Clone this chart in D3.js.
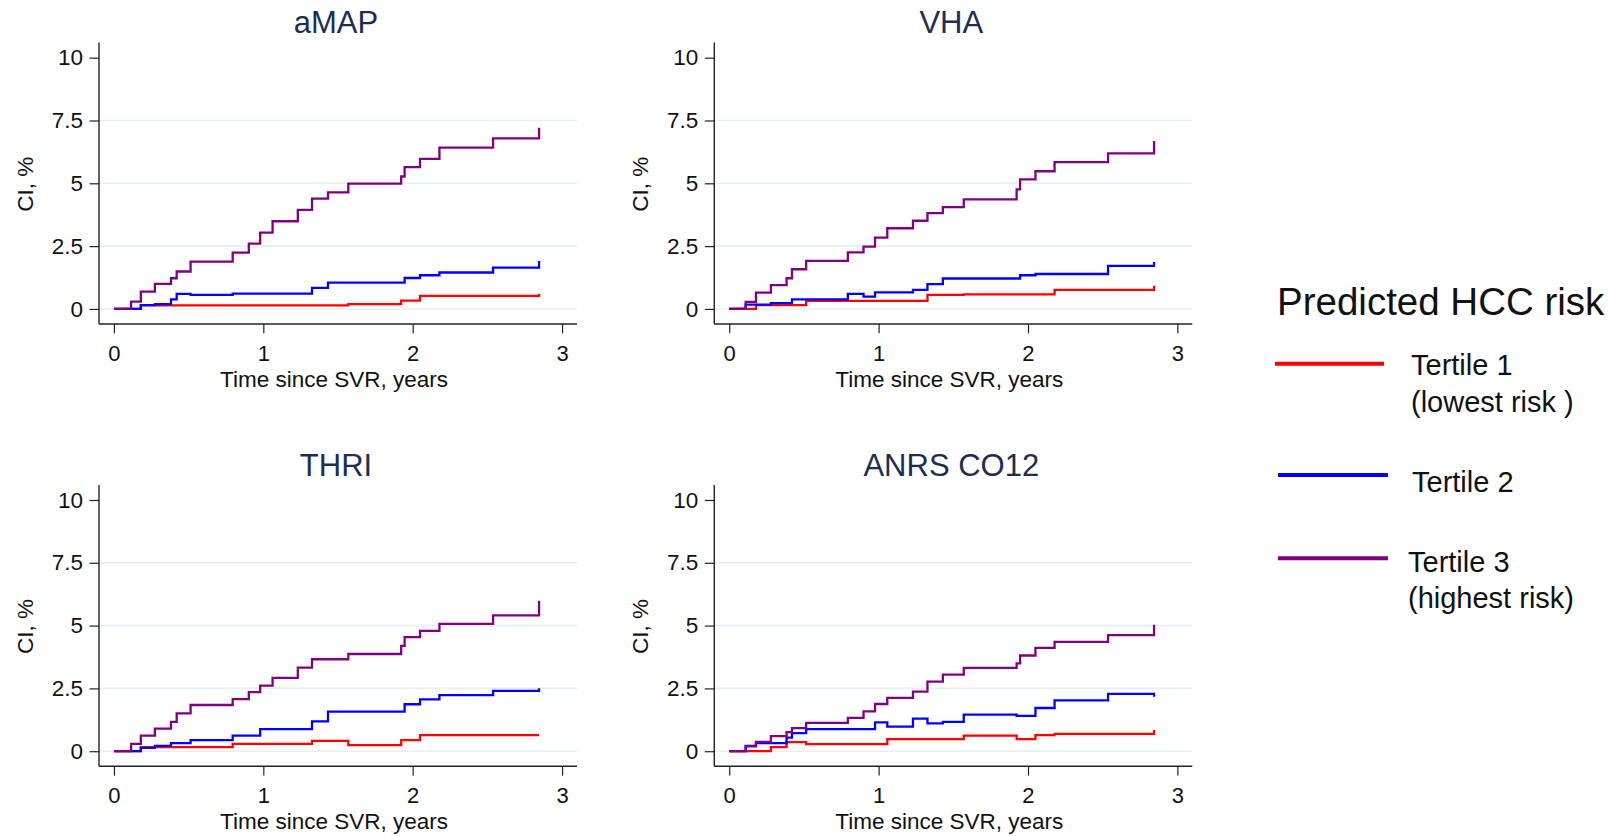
<!DOCTYPE html>
<html>
<head>
<meta charset="utf-8">
<script src="https://cdn.jsdelivr.net/npm/d3@7"></script>
<style>
  html, body { margin: 0; padding: 0; background: #fff; }
  svg { display: block; font-family: "Liberation Sans", Arial, Helvetica, sans-serif; }
</style>
</head>
<body>
<svg id="chart" width="1619" height="836"></svg>
<script>
// ---------------- DATA ----------------
const panelTitles = ["aMAP", "VHA", "THRI", "ANRS CO12"];
const seriesNames = ["Tertile 1", "Tertile 2", "Tertile 3"];
const legendTitle = "Predicted HCC risk";
const legendLabels = [["Tertile 1", "(lowest risk )"], ["Tertile 2"], ["Tertile 3", "(highest risk)"]];
const xTicks = [0, 1, 2, 3];
const yTicks = [0, 2.5, 5, 7.5, 10];
const yGrid = [0, 2.5, 5, 7.5];
const xLabel = "Time since SVR, years";
const yLabel = "CI, %";

// [time (years), cumulative incidence (%)]
const aMAP_t1 = [[0,0],[0.18,0.14],[1.569,0.19],[1.923,0.33],[2.049,0.52],[2.846,0.52],[2.846,0.6]];
const aMAP_t2 = [[0,0],[0.18,0.15],[0.274,0.19],[0.382,0.38],[0.42,0.6],[0.513,0.56],[0.795,0.61],[1.326,0.84],[1.433,1.05],[1.946,1.23],[2.049,1.34],[2.179,1.45],[2.538,1.64],[2.846,1.64],[2.846,1.91]];
const aMAP_t3 = [[0,0],[0.115,0.29],[0.18,0.69],[0.274,1.0],[0.382,1.22],[0.42,1.49],[0.513,1.88],[0.795,2.24],[0.903,2.6],[0.979,3.04],[1.062,3.49],[1.231,3.94],[1.326,4.39],[1.433,4.64],[1.569,4.99],[1.923,5.27],[1.946,5.64],[2.049,5.97],[2.179,6.42],[2.538,6.79],[2.846,6.79],[2.846,7.21]];

const VHA_t1 = [[0,0],[0.179,0.15],[0.515,0.32],[1.327,0.56],[1.57,0.58],[2.178,0.76],[2.844,0.76],[2.844,0.92]];
const VHA_t2 = [[0,0],[0.11,0.17],[0.279,0.23],[0.42,0.38],[0.794,0.6],[0.899,0.49],[0.976,0.66],[1.23,0.76],[1.327,0.99],[1.43,1.21],[1.947,1.34],[2.05,1.39],[2.536,1.71],[2.844,1.71],[2.844,1.87]];
const VHA_t3 = [[0,0],[0.11,0.28],[0.179,0.65],[0.279,0.95],[0.384,1.22],[0.42,1.58],[0.515,1.91],[0.794,2.25],[0.899,2.48],[0.976,2.84],[1.058,3.21],[1.23,3.51],[1.327,3.81],[1.43,4.05],[1.57,4.36],[1.924,4.76],[1.947,5.16],[2.05,5.48],[2.178,5.84],[2.536,6.19],[2.844,6.19],[2.844,6.68]];

const THRI_t1 = [[0,0],[0.18,0.16],[0.795,0.29],[1.326,0.41],[1.569,0.24],[1.923,0.44],[2.049,0.64],[2.846,0.64]];
const THRI_t2 = [[0,0],[0.18,0.13],[0.274,0.21],[0.382,0.32],[0.513,0.44],[0.795,0.62],[0.979,0.88],[1.326,1.19],[1.433,1.58],[1.946,1.87],[2.049,2.06],[2.179,2.23],[2.538,2.4],[2.846,2.4],[2.846,2.51]];
const THRI_t3 = [[0,0],[0.115,0.29],[0.18,0.62],[0.274,0.9],[0.382,1.17],[0.42,1.51],[0.513,1.84],[0.795,2.07],[0.903,2.35],[0.979,2.61],[1.062,2.92],[1.231,3.33],[1.326,3.66],[1.569,3.87],[1.923,4.19],[1.946,4.54],[2.049,4.79],[2.179,5.07],[2.538,5.41],[2.846,5.41],[2.846,5.99]];

const ANRS_t1 = [[0,0],[0.279,0.16],[0.384,0.36],[0.515,0.28],[1.058,0.48],[1.57,0.62],[1.924,0.48],[2.05,0.64],[2.178,0.69],[2.844,0.69],[2.844,0.84]];
const ANRS_t2 = [[0,0],[0.11,0.21],[0.179,0.32],[0.384,0.54],[0.42,0.72],[0.515,0.88],[0.976,1.15],[1.058,0.98],[1.23,1.3],[1.327,1.11],[1.43,1.17],[1.57,1.46],[1.924,1.41],[2.05,1.72],[2.178,2.02],[2.536,2.28],[2.844,2.28],[2.844,2.17]];
const ANRS_t3 = [[0,0],[0.11,0.19],[0.179,0.37],[0.279,0.6],[0.384,0.76],[0.42,0.92],[0.515,1.13],[0.794,1.33],[0.899,1.59],[0.976,1.88],[1.058,2.12],[1.23,2.37],[1.327,2.77],[1.43,3.05],[1.57,3.32],[1.924,3.5],[1.947,3.81],[2.05,4.11],[2.178,4.35],[2.536,4.62],[2.844,4.62],[2.844,5.03]];

const panelSeries = [
  [aMAP_t1, aMAP_t2, aMAP_t3],
  [VHA_t1, VHA_t2, VHA_t3],
  [THRI_t1, THRI_t2, THRI_t3],
  [ANRS_t1, ANRS_t2, ANRS_t3]
];

// ---------------- STYLE / LAYOUT ----------------
const colors = ["#ff0000", "#0000ff", "#800080"];
const titleColor = "#1f2d52";
const panelOrigins = [[0, 0], [615.3, 0], [0, 442.3], [615.3, 442.3]];
const axisLeft = 99, axisRight = 577, axisTop = 42.6, axisBottom = 324;
const font = '"Liberation Sans", Arial, sans-serif';

const svg = d3.select("#chart");

panelTitles.forEach((title, i) => {
  const [ox, oy] = panelOrigins[i];
  const g = svg.append("g").attr("transform", `translate(${ox},${oy})`);

  const x = d3.scaleLinear().domain([-0.1, 3.1]).range([axisLeft, axisRight]);
  const y = d3.scaleLinear().domain([-0.6, 10.6]).range([axisBottom, axisTop]);

  // grid
  g.append("g").selectAll("line").data(yGrid).join("line")
    .attr("x1", axisLeft).attr("x2", axisRight)
    .attr("y1", d => y(d)).attr("y2", d => y(d))
    .attr("stroke", "#e7eff2").attr("stroke-width", 1.6);

  // y axis
  const yAxis = d3.axisLeft(y).tickValues(yTicks).tickSize(9.5).tickPadding(6.5)
    .tickFormat(d => String(d));
  const ya = g.append("g").attr("transform", `translate(${axisLeft},0)`).call(yAxis);
  ya.attr("font-size", null).attr("font-family", null);
  ya.select(".domain").attr("d", `M0,${axisTop}V${axisBottom}`).attr("stroke", "#222").attr("stroke-width", 1.4);
  ya.selectAll(".tick line").attr("stroke", "#222").attr("stroke-width", 1.2);
  ya.selectAll(".tick text").style("font-size", "22.5px").attr("fill", "#111").style("font-family", font);

  // x axis
  const xAxis = d3.axisBottom(x).tickValues(xTicks).tickSize(9.3).tickPadding(12).tickFormat(d => String(d));
  const xa = g.append("g").attr("transform", `translate(0,${axisBottom})`).call(xAxis);
  xa.attr("font-size", null).attr("font-family", null);
  xa.select(".domain").attr("d", `M${axisLeft},0H${axisRight}`).attr("stroke", "#222").attr("stroke-width", 1.4);
  xa.selectAll(".tick line").attr("stroke", "#222").attr("stroke-width", 1.2);
  xa.selectAll(".tick text").style("font-size", "22px").attr("fill", "#111").style("font-family", font);

  // curves
  const line = d3.line().x(d => x(d[0])).y(d => y(d[1])).curve(d3.curveStepAfter);
  [0, 1, 2].forEach(k => {
    g.append("path").datum(panelSeries[i][k])
      .attr("d", line)
      .attr("fill", "none")
      .attr("stroke", colors[k])
      .attr("stroke-width", 2.3)
      .attr("stroke-linejoin", "miter");
  });

  // titles
  g.append("text").attr("x", (axisLeft + axisRight) / 2 - 2).attr("y", 33.3)
    .attr("text-anchor", "middle").style("font-size", "31px").attr("fill", titleColor).text(title);
  g.append("text").attr("x", (axisLeft + axisRight) / 2 - 4).attr("y", 386.5)
    .attr("text-anchor", "middle").style("font-size", "22.5px").attr("fill", "#111").text(xLabel);
  g.append("text")
    .attr("transform", `translate(${axisLeft - 74},${(y(0) + y(10)) / 2 + 1}) rotate(-90)`)
    .attr("text-anchor", "middle").attr("dy", "0.35em")
    .style("font-size", "22.5px").attr("fill", "#111").text(yLabel);
});

// ---------------- LEGEND ----------------
const lg = svg.append("g");
lg.append("text").attr("x", 1277).attr("y", 315).style("font-size", "38.5px").attr("fill", "#111").text(legendTitle);
const legendLineY = [363.7, 475, 558.3];
const legendLineX = [[1275, 1384], [1278, 1388], [1278, 1388]];
const legendTextX = [1411, 1412, 1408];
const legendTextY = [375, 491.7, 571.7];
legendLabels.forEach((lines, k) => {
  lg.append("line")
    .attr("x1", legendLineX[k][0]).attr("x2", legendLineX[k][1])
    .attr("y1", legendLineY[k]).attr("y2", legendLineY[k])
    .attr("stroke", colors[k]).attr("stroke-width", 4);
  lines.forEach((t, j) => {
    lg.append("text").attr("x", legendTextX[k]).attr("y", legendTextY[k] + j * 36.7)
      .style("font-size", "29px").attr("fill", "#111").text(t);
  });
});
</script>
</body>
</html>
